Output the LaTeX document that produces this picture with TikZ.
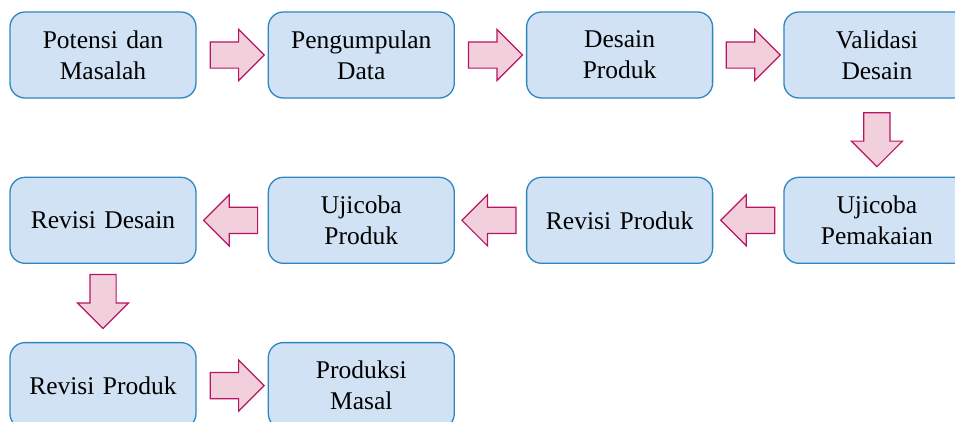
\documentclass[tikz,border=0pt]{standalone}
\usepackage{fontspec}
\setmainfont{Liberation Serif}
\usetikzlibrary{calc, positioning, shapes.arrows}

\definecolor{stagefill}{RGB}{208,226,243}
\definecolor{stageline}{RGB}{46,134,193}
\definecolor{arrowfill}{RGB}{242,208,219}
\definecolor{arrowline}{RGB}{185,20,100}

\begin{document}
\begin{tikzpicture}[
    stage/.style={rectangle, rounded corners=15pt, draw=stageline, fill=stagefill,
        line width=1.3pt, minimum width=186pt, minimum height=86pt,
        text width=176pt, align=center, inner sep=0pt,
        font=\fontsize{25.5}{31}\selectfont},
    blockarrow/.style={single arrow, draw=arrowline, fill=arrowfill,
        line width=1.2pt, minimum height=54pt, minimum width=50pt,
        inner xsep=0pt, inner ysep=12.5pt, single arrow head extend=12.5pt}
]

    \useasboundingbox (0,0) rectangle (955pt,-421pt);

    % Nodes ------------------------------------------------------

    \node[stage] (s1) at (103pt,-55pt) {Potensi dan\\Masalah};
    \node[stage, right=71pt of s1] (s2) {Pengumpulan\\Data};
    \node[stage, right=71pt of s2] (s3) {Desain\\Produk};
    \node[stage, right=70pt of s3] (s4) {Validasi\\Desain};

    \node[stage, below=78pt of s4] (s5) {Ujicoba\\Pemakaian};
    \node[stage, left=70pt of s5] (s6) {Revisi Produk};
    \node[stage, left=71pt of s6] (s7) {Ujicoba\\Produk};
    \node[stage, left=71pt of s7] (s8) {Revisi Desain};

    \node[stage, below=78pt of s8] (s9) {Revisi Produk};
    \node[stage, right=71pt of s9] (s10) {Produksi\\Masal};

    % Arrows ---------------------------------------------------

    \node[blockarrow] (a1) at ($(s1.east)!0.5!(s2.west)+(-1.5pt,0)$) {};
    \node[blockarrow] (a2) at ($(s2.east)!0.5!(s3.west)+(-1.5pt,0)$) {};
    \node[blockarrow] (a3) at ($(s3.east)!0.5!(s4.west)+(-1.5pt,0)$) {};
    \node[blockarrow, rotate=-90] (a4) at ($(s4.south)!0.5!(s5.north)+(0,4.5pt)$) {};
    \node[blockarrow, rotate=180] (a5) at ($(s5.west)!0.5!(s6.east)+(6pt,0)$) {};
    \node[blockarrow, rotate=180] (a6) at ($(s6.west)!0.5!(s7.east)+(5pt,0)$) {};
    \node[blockarrow, rotate=180] (a7) at ($(s7.west)!0.5!(s8.east)+(5pt,0)$) {};
    \node[blockarrow, rotate=-90] (a8) at ($(s8.south)!0.5!(s9.north)+(0,8pt)$) {};
    \node[blockarrow] (a9) at ($(s9.east)!0.5!(s10.west)+(-1.5pt,0)$) {};

\end{tikzpicture}
\end{document}
